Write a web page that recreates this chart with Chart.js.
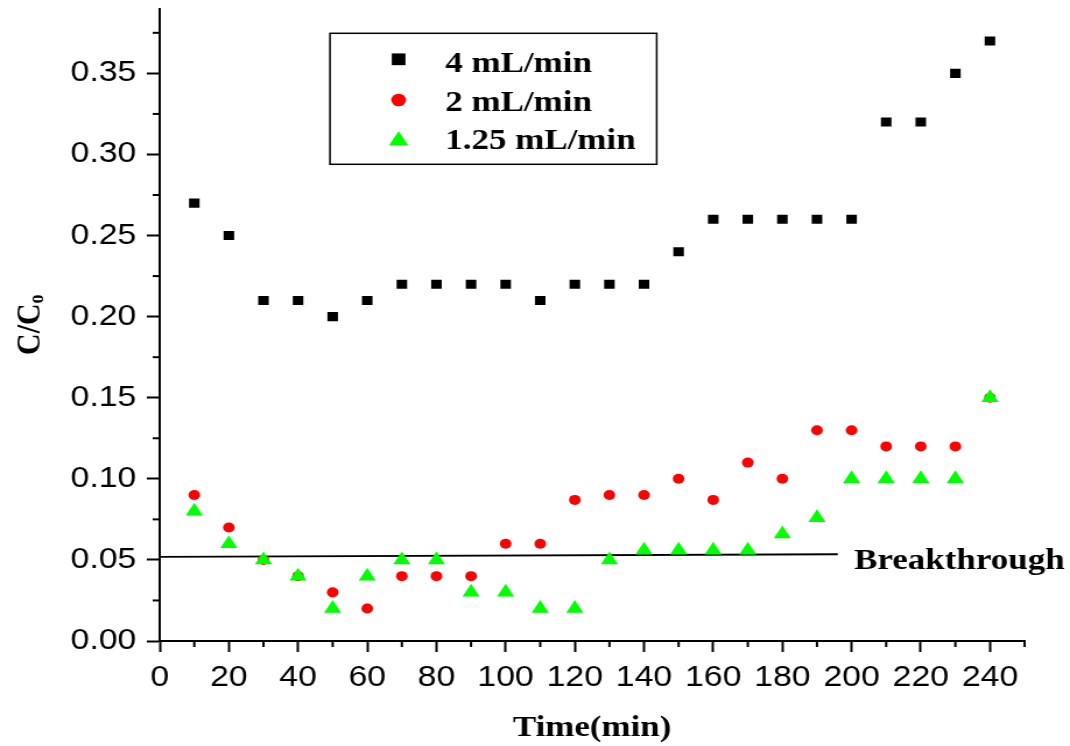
<!DOCTYPE html>
<html><head><meta charset="utf-8">
<script src="https://cdn.jsdelivr.net/npm/chart.js@4/dist/chart.umd.min.js"></script>
<style>
html,body{margin:0;padding:0;background:#fff;overflow:hidden;}
#wrap{width:918px;height:746px;transform:scaleX(1.16558);transform-origin:0 0;}
canvas{display:block;}
</style></head><body>
<div id="wrap"><canvas id="c" width="918" height="746"></canvas></div>
<script>
const timeMin = [10,20,30,40,50,60,70,80,90,100,110,120,130,140,150,160,170,180,190,200,210,220,230,240];
const flow4 = [0.27,0.25,0.21,0.21,0.20,0.21,0.22,0.22,0.22,0.22,0.21,0.22,0.22,0.22,0.24,0.26,0.26,0.26,0.26,0.26,0.32,0.32,0.35,0.37];
const flow2 = [0.09,0.07,0.05,0.04,0.03,0.02,0.04,0.04,0.04,0.06,0.06,0.087,0.09,0.09,0.10,0.087,0.11,0.10,0.13,0.13,0.12,0.12,0.12,0.15];
const flow125 = [0.08,0.06,0.05,0.04,0.02,0.04,0.05,0.05,0.03,0.03,0.02,0.02,0.05,0.056,0.056,0.056,0.056,0.066,0.076,0.10,0.10,0.10,0.10,0.15];
const seriesLabels = ['4 mL/min','2 mL/min','1.25 mL/min'];
const breakthroughX = [0,196];
const breakthroughY = [0.0519,0.0535];
const breakthroughLabel = 'Breakthrough';
const xTickValues = [0,20,40,60,80,100,120,140,160,180,200,220,240];
const xMinorValues = [10,30,50,70,90,110,130,150,170,190,210,230,250];
const yTickValues = [0,0.05,0.10,0.15,0.20,0.25,0.30,0.35];
const yMinorValues = [0.025,0.075,0.125,0.175,0.225,0.275,0.325,0.375];
const xTitle = 'Time(min)';
const yTitle = 'C/C\u2092';

const serif = '"Liberation Serif","Times New Roman",serif';
const sans = '"Liberation Sans",Arial,sans-serif';

const styles = [
  {pointStyle:'rect', r:6.4, color:'#000000', lr:8.3},
  {pointStyle:'circle', r:5, color:'#ff0000', lr:6.3},
  {pointStyle:'triangle', r:8.5, color:'#00ff00', lr:9.5}
];
const seriesValues = [flow4, flow2, flow125];

const datasets = seriesValues.map((vals,k)=>({
  type:'scatter',
  label: seriesLabels[k],
  data: timeMin.map((t,i)=>({x:t,y:vals[i]})),
  pointStyle: styles[k].pointStyle,
  pointRadius: styles[k].r,
  pointHoverRadius: styles[k].r,
  pointBorderWidth: 0,
  backgroundColor: styles[k].color,
  borderColor: styles[k].color,
  order: 3-k
}));
datasets.push({
  type:'line',
  label: breakthroughLabel,
  data: breakthroughX.map((t,i)=>({x:t,y:breakthroughY[i]})),
  borderColor:'#000', borderWidth:1.8, pointRadius:0, fill:false, order:5
});

function drawMarker(ctx, st, r, x, y){
  ctx.fillStyle = st.color;
  if (Chart.helpers && Chart.helpers.drawPoint) {
    Chart.helpers.drawPoint(ctx, {pointStyle:st.pointStyle, radius:r, rotation:0, borderWidth:0}, x, y);
  }
}

const decor = {
  id:'decor',
  afterDraw(chart){
    const {ctx, chartArea, scales:{x,y}} = chart;
    ctx.save();
    ctx.strokeStyle = '#000'; ctx.lineWidth = 2;
    xMinorValues.forEach(v=>{
      const px = x.getPixelForValue(v);
      ctx.beginPath(); ctx.moveTo(px, chartArea.bottom); ctx.lineTo(px, chartArea.bottom+6); ctx.stroke();
    });
    yMinorValues.forEach(v=>{
      const py = y.getPixelForValue(v);
      ctx.beginPath(); ctx.moveTo(chartArea.left, py); ctx.lineTo(chartArea.left-6, py); ctx.stroke();
    });
    const bx = x.getPixelForValue(breakthroughX[1]) + 14;
    const by = y.getPixelForValue(breakthroughY[1]) + 15;
    ctx.fillStyle = '#000';
    ctx.font = 'bold 30px ' + serif;
    ctx.textBaseline = 'alphabetic'; ctx.textAlign = 'left';
    ctx.fillText(breakthroughLabel, bx, by);
    ctx.lineWidth = 1.5; ctx.strokeStyle = '#000';
    ctx.strokeRect(283.1, 33.3, 280.3, 131);
    const rowsMarker = [59.3, 100, 140.4];
    const rowsText = [71.7, 110.7, 149.3];
    seriesLabels.forEach((lab,k)=>{
      drawMarker(ctx, styles[k], styles[k].lr, 342, rowsMarker[k]);
      ctx.fillStyle = '#000';
      ctx.font = 'bold 30px ' + serif;
      ctx.fillText(lab, 382, rowsText[k]);
    });
    ctx.restore();
  }
};

function zeroPad(s){ s.paddingTop = 0; s.paddingBottom = 0; s.paddingLeft = 0; s.paddingRight = 0; }

new Chart(document.getElementById('c'), {
  type:'scatter',
  data:{datasets},
  options:{
    responsive:false,
    animation:false,
    devicePixelRatio:1,
    layout:{padding:{top:8,right:39,bottom:0,left:0}},
    plugins:{legend:{display:false}, tooltip:{enabled:false}},
    scales:{
      x:{
        type:'linear', min:0, max:250,
        afterFit(s){ s.height = 105; zeroPad(s); },
        afterBuildTicks(s){ s.ticks = xTickValues.map(v=>({value:v})); },
        ticks:{ font:{family:sans, size:29}, color:'#000', padding:9, maxRotation:0, autoSkip:false, callback:v=>String(v) },
        grid:{ display:true, drawOnChartArea:false, drawTicks:true, tickLength:11, tickWidth:2, tickColor:'#000' },
        border:{ display:true, color:'#000', width:2 },
        title:{ display:true, text:xTitle, color:'#000', font:{family:serif, size:30, weight:'bold'}, padding:{top:0,bottom:0} }
      },
      y:{
        type:'linear', min:0, max:0.39,
        afterFit(s){ s.width = 137; zeroPad(s); },
        afterBuildTicks(s){ s.ticks = yTickValues.map(v=>({value:v})); },
        ticks:{ font:{family:sans, size:29}, color:'#000', padding:9, autoSkip:false, callback:v=>Number(v).toFixed(2) },
        grid:{ display:true, drawOnChartArea:false, drawTicks:true, tickLength:11, tickWidth:2, tickColor:'#000' },
        border:{ display:true, color:'#000', width:2 },
        title:{ display:true, text:yTitle, color:'#000', font:{family:serif, size:30, weight:'bold'}, padding:{top:8,bottom:0} }
      }
    }
  },
  plugins:[decor]
});
</script>
</body></html>
